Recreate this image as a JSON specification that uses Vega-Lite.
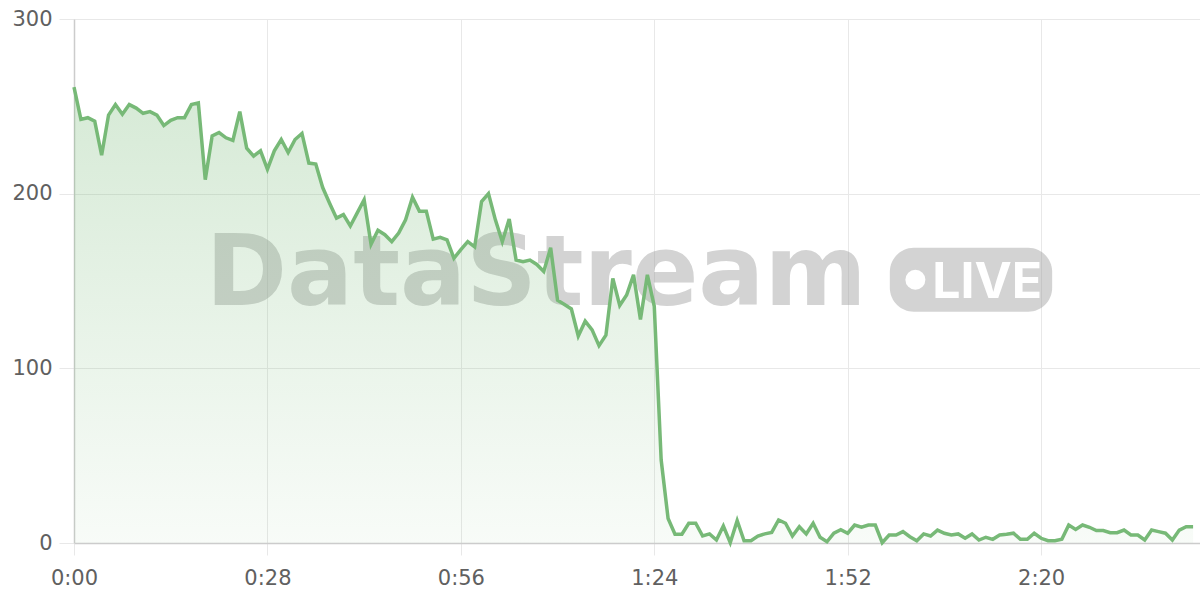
{
  "$schema": "https://vega.github.io/schema/vega-lite/v6.json",
  "width": 1126,
  "height": 524,
  "autosize": {"type": "none"},
  "padding": {"left": 74, "top": 19, "right": 0, "bottom": 57},
  "background": "white",
  "config": {
    "view": {"stroke": null},
    "axis": {
      "labelFont": "DejaVu Sans",
      "labelFontSize": 21,
      "labelColor": "#606060",
      "labelFlush": false,
      "labelBound": false,
      "labelOverlap": false,
      "gridColor": "#e8e8e8",
      "gridWidth": 1,
      "domainColor": "#cccccc",
      "domainWidth": 1.5,
      "tickColor": "#e8e8e8",
      "tickWidth": 1,
      "title": null
    }
  },
  "datasets": {
    "series": [
      {"t":0,"v":261},{"t":1,"v":242.5},{"t":2,"v":243.5},{"t":3,"v":241.5},{"t":4,"v":222},{"t":5,"v":245},{"t":6,"v":251},{"t":7,"v":245.5},{"t":8,"v":251},{"t":9,"v":249},
      {"t":10,"v":246},{"t":11,"v":247},{"t":12,"v":245},{"t":13,"v":239},{"t":14,"v":242},{"t":15,"v":243.5},{"t":16,"v":243.5},{"t":17,"v":251},{"t":18,"v":252},{"t":19,"v":208},
      {"t":20,"v":233},{"t":21,"v":235},{"t":22,"v":232},{"t":23,"v":230.5},{"t":24,"v":247},{"t":25,"v":226},{"t":26,"v":221.5},{"t":27,"v":224.5},{"t":28,"v":214},{"t":29,"v":224.5},
      {"t":30,"v":231},{"t":31,"v":223.5},{"t":32,"v":231},{"t":33,"v":234.5},{"t":34,"v":217.5},{"t":35,"v":217},{"t":36,"v":203.5},{"t":37,"v":194.5},{"t":38,"v":186},{"t":39,"v":188},
      {"t":40,"v":181.5},{"t":41,"v":189},{"t":42,"v":196.5},{"t":43,"v":171},{"t":44,"v":179},{"t":45,"v":176.5},{"t":46,"v":172.5},{"t":47,"v":177.5},{"t":48,"v":185},{"t":49,"v":198},
      {"t":50,"v":190},{"t":51,"v":190},{"t":52,"v":174},{"t":53,"v":175},{"t":54,"v":173.5},{"t":55,"v":163},{"t":56,"v":168},{"t":57,"v":172.5},{"t":58,"v":169.5},{"t":59,"v":195.5},
      {"t":60,"v":200},{"t":61,"v":185},{"t":62,"v":172.5},{"t":63,"v":185.5},{"t":64,"v":162},{"t":65,"v":161},{"t":66,"v":162},{"t":67,"v":159.5},{"t":68,"v":155.5},{"t":69,"v":169},
      {"t":70,"v":139},{"t":71,"v":136.5},{"t":72,"v":134},{"t":73,"v":118.5},{"t":74,"v":127},{"t":75,"v":122},{"t":76,"v":113},{"t":77,"v":119},{"t":78,"v":151.5},{"t":79,"v":136},
      {"t":80,"v":142},{"t":81,"v":153.5},{"t":82,"v":128},{"t":83,"v":153.5},{"t":84,"v":135.5},{"t":85,"v":47.5},{"t":86,"v":14},{"t":87,"v":5},{"t":88,"v":5},{"t":89,"v":11.3},
      {"t":90,"v":11.3},{"t":91,"v":4},{"t":92,"v":5.2},{"t":93,"v":1.7},{"t":94,"v":9.7},{"t":95,"v":0.2},{"t":96,"v":12.8},{"t":97,"v":1.3},{"t":98,"v":1.3},{"t":99,"v":4},
      {"t":100,"v":5.2},{"t":101,"v":6.1},{"t":102,"v":13.2},{"t":103,"v":11.3},{"t":104,"v":4},{"t":105,"v":9.3},{"t":106,"v":5.2},{"t":107,"v":11.3},{"t":108,"v":3.3},{"t":109,"v":0.7},
      {"t":110,"v":5.6},{"t":111,"v":7.6},{"t":112,"v":5.6},{"t":113,"v":10.3},{"t":114,"v":9},{"t":115,"v":10.3},{"t":116,"v":10.3},{"t":117,"v":0.2},{"t":118,"v":4.6},{"t":119,"v":4.6},
      {"t":120,"v":6.5},{"t":121,"v":3.6},{"t":122,"v":1.3},{"t":123,"v":5.2},{"t":124,"v":4},{"t":125,"v":7.4},{"t":126,"v":5.6},{"t":127,"v":4.6},{"t":128,"v":5.2},{"t":129,"v":2.7},
      {"t":130,"v":5.2},{"t":131,"v":1.7},{"t":132,"v":3.3},{"t":133,"v":2.1},{"t":134,"v":4.6},{"t":135,"v":5},{"t":136,"v":5.6},{"t":137,"v":2.1},{"t":138,"v":2.1},{"t":139,"v":5.6},
      {"t":140,"v":2.7},{"t":141,"v":1.3},{"t":142,"v":1.3},{"t":143,"v":2.1},{"t":144,"v":10.3},{"t":145,"v":7.8},{"t":146,"v":10.3},{"t":147,"v":9},{"t":148,"v":7.1},{"t":149,"v":7.1},
      {"t":150,"v":5.9},{"t":151,"v":5.9},{"t":152,"v":7.4},{"t":153,"v":4.6},{"t":154,"v":4.6},{"t":155,"v":1.7},{"t":156,"v":7.4},{"t":157,"v":6.5},{"t":158,"v":5.6},{"t":159,"v":1.7},
      {"t":160,"v":7.4},{"t":161,"v":9.3},{"t":162,"v":9.3}
    ],
    "brand": [{"label":"DataStream","t":66.9,"v":136.4}],
    "badge": [{"t":118.1,"t2":141.6,"v":169,"v2":132.4}],
    "dot": [{"t":121.8,"v":150.7}],
    "live": [{"label":"LIVE","t":132.2,"v":140.4}]
  },
  "layer": [
    {
      "data": {"name": "brand"},
      "mark": {"type": "text", "font": "DejaVu Sans", "fontWeight": "bold", "fontSize": 98, "align": "center", "baseline": "alphabetic", "color": "#9e9e9e", "opacity": 0.45},
      "encoding": {
        "x": {
          "field": "t", "type": "quantitative",
          "scale": {"domain": [0, 163], "nice": false},
          "axis": {
            "values": [0, 28, 56, 84, 112, 140],
            "labelExpr": "floor(datum.value/60) + ':' + (datum.value%60 < 10 ? '0' : '') + (datum.value%60)",
            "grid": true, "ticks": true, "tickSize": 12, "labelPadding": 12, "domain": true
          }
        },
        "y": {
          "field": "v", "type": "quantitative",
          "scale": {"domain": [0, 300], "nice": false},
          "axis": {
            "values": [0, 100, 200, 300],
            "grid": true, "ticks": true, "tickSize": 15, "labelPadding": 7, "domain": true
          }
        },
        "text": {"field": "label"}
      }
    },
    {
      "data": {"name": "badge"},
      "mark": {"type": "rect", "color": "#9e9e9e", "opacity": 0.45, "cornerRadius": 24},
      "encoding": {
        "x": {"field": "t", "type": "quantitative"},
        "x2": {"field": "t2"},
        "y": {"field": "v", "type": "quantitative"},
        "y2": {"field": "v2"}
      }
    },
    {
      "data": {"name": "dot"},
      "mark": {"type": "circle", "color": "white", "opacity": 1, "size": 400},
      "encoding": {
        "x": {"field": "t", "type": "quantitative"},
        "y": {"field": "v", "type": "quantitative"}
      }
    },
    {
      "data": {"name": "live"},
      "mark": {"type": "text", "font": "Inter", "fontWeight": "bold", "fontSize": 50, "align": "center", "baseline": "alphabetic", "color": "white"},
      "encoding": {
        "x": {"field": "t", "type": "quantitative"},
        "y": {"field": "v", "type": "quantitative"},
        "text": {"field": "label"}
      }
    },
    {
      "data": {"name": "series"},
      "mark": {
        "type": "area",
        "color": {
          "gradient": "linear", "x1": 0, "y1": 0, "x2": 0, "y2": 1,
          "stops": [
            {"offset": 0, "color": "rgba(119,185,119,0.30)"},
            {"offset": 1, "color": "rgba(119,185,119,0.05)"}
          ]
        }
      },
      "encoding": {
        "x": {"field": "t", "type": "quantitative"},
        "y": {"field": "v", "type": "quantitative"}
      }
    },
    {
      "data": {"name": "series"},
      "mark": {"type": "line", "color": "#77b977", "strokeWidth": 3.5},
      "encoding": {
        "x": {"field": "t", "type": "quantitative"},
        "y": {"field": "v", "type": "quantitative"}
      }
    }
  ]
}
